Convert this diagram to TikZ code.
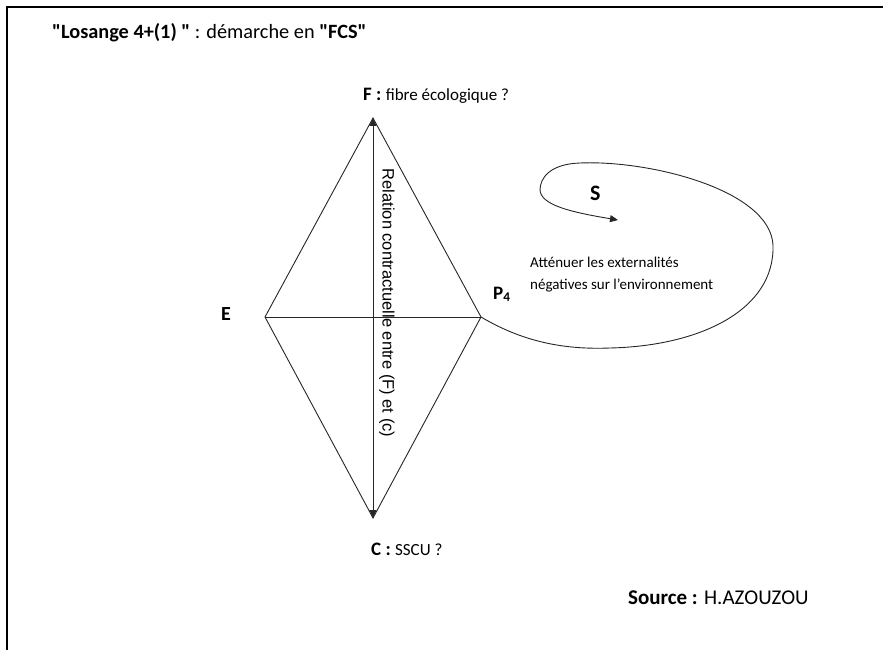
\documentclass[tikz,border=0pt]{standalone}
\usepackage{fontspec}
\setmainfont{Carlito}
\newfontfamily\arialf{Liberation Sans}
\usetikzlibrary{arrows.meta}
\newcommand{\qq}{\textquotedbl}
\tikzset{
  lbl/.style={inner sep=0pt, font=\fontsize{20}{22}\selectfont\bfseries},
  txt/.style={inner sep=0pt, font=\fontsize{15}{22}\selectfont},
  edge/.style={line width=0.9pt, black!85},
  tip/.style={-{Triangle[length=8pt,width=7pt]}}
}
\begin{document}
\begin{tikzpicture}[x=1pt,y=-1pt]
\useasboundingbox (0,0) rectangle (883,650);
% frame
\draw[line width=2pt] (7,650) -- (7,7) -- (883,7);
% title
\node[anchor=base west, inner sep=0pt] (title) at (52,39)
  {\fontsize{20.3}{22}\selectfont\textbf{\qq Losange 4+(1) \qq} : démarche en \textbf{\qq FCS\qq}};
% diamond vertices
\coordinate (F) at (373,118);
\coordinate (E) at (265,317);
\coordinate (P) at (481,317);
\coordinate (C) at (373,518);
\draw[edge] (F) -- (E) -- (C) -- (P) -- cycle;
\draw[edge] (E) -- (P);
\draw[edge, {Triangle[length=8pt,width=7pt]}-{Triangle[length=8pt,width=7pt]}] (C) -- (F);
% vertical label
\node[rotate=-90, inner sep=0pt, anchor=south, font=\arialf\fontsize{16.5}{18}\selectfont] (rel) at (379,303)
  {Relation contractuelle entre (F) et (c)};
% labels
\node[anchor=base west, inner sep=0pt] (Flbl) at (363,101)
  {\fontsize{19}{21}\selectfont\textbf{F :} \fontsize{17}{19}\selectfont fibre écologique ?};
\node[anchor=base west, inner sep=0pt] (Clbl) at (371,555)
  {\fontsize{19}{21}\selectfont\textbf{C :} \fontsize{17}{19}\selectfont SSCU ?};
\node[lbl, anchor=base west] (Elbl) at (221,320) {E};
\node[anchor=base west, inner sep=0pt, font=\fontsize{19}{21}\selectfont\bfseries] (Plbl) at (493,299) {P\textsubscript{4}};
\node[anchor=base west, inner sep=0pt, font=\fontsize{22}{24}\selectfont\bfseries] (Slbl) at (590,200) {S};
\node[txt, anchor=base west, align=left] (att) at (530,289)
  {Atténuer les externalités\\négatives sur l’environnement};
% loop
\draw[edge, tip] (P) .. controls (520,340) and (560,350) .. (610,348)
  .. controls (700,346) and (775,310) .. (773,245)
  .. controls (770,190) and (650,160) .. (580,163)
  .. controls (550,164) and (540,178) .. (540,190)
  .. controls (541,205) and (570,212) .. (618,220);
% source
\node[anchor=base west, inner sep=0pt] (src) at (628,604)
  {\fontsize{21}{23}\selectfont\textbf{Source :} H.AZOUZOU};
\end{tikzpicture}
\end{document}
